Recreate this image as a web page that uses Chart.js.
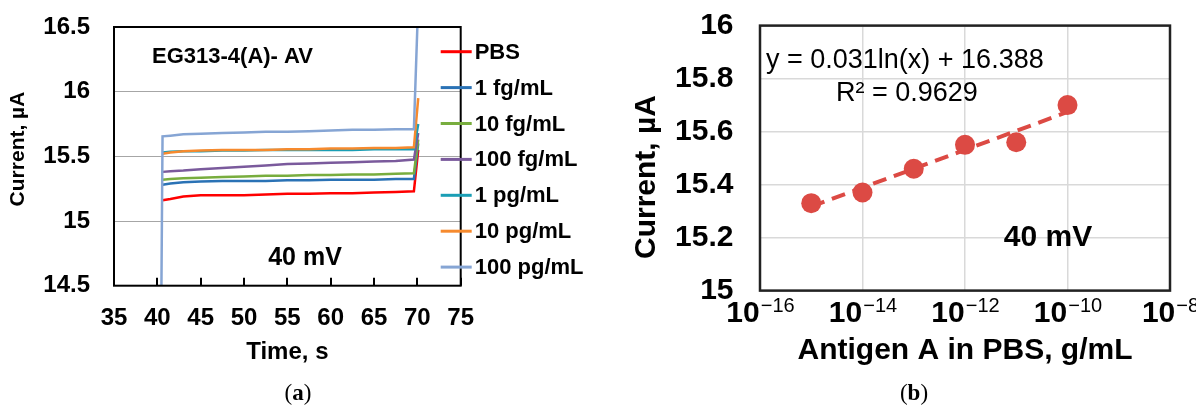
<!DOCTYPE html>
<html>
<head>
<meta charset="utf-8">
<script src="https://cdn.jsdelivr.net/npm/chart.js@4.4.1/dist/chart.umd.min.js"></script>
<style>
  html, body { margin: 0; padding: 0; background: #fff; }
  #wrap { position: relative; width: 1196px; height: 405px; overflow: hidden; }
  canvas { position: absolute; top: 0; }
  #leftChart { left: 0; }
  #rightChart { left: 600px; }
  .cap { position: absolute; top: 393px; transform: translate(-50%, -50%);
         font-family: 'Liberation Serif', 'DejaVu Serif', serif; font-size: 23px; color: #000; }
</style>
</head>
<body>
<div id="wrap">
  <canvas id="leftChart" width="600" height="405"></canvas>
  <canvas id="rightChart" width="596" height="405"></canvas>
  <div class="cap" style="left:298px">(<b>a</b>)</div>
  <div class="cap" style="left:914px">(<b>b</b>)</div>
</div>
<script>
const FONT = "'Liberation Sans', Arial, sans-serif";

// (a) current vs time, one trace per concentration
const timeS = [40.45, 40.6, 41.5, 43, 45, 47.5, 50, 52.5, 55, 57.5, 60, 62.5, 65, 67.5, 69.6, 70.1];
const seriesNames = ['PBS', '1 fg/mL', '10 fg/mL', '100 fg/mL', '1 pg/mL', '10 pg/mL', '100 pg/mL'];
const seriesColors = ['#FF0000', '#2A72B5', '#78AD3E', '#7A5A9C', '#1A9EB5', '#F68A2E', '#86A5D4'];
const pbs      = [null, 15.16, 15.17, 15.19, 15.20, 15.20, 15.20, 15.205, 15.21, 15.21, 15.215, 15.215, 15.22, 15.225, 15.23, 15.55];
const fg1      = [null, 15.28, 15.29, 15.30, 15.305, 15.31, 15.31, 15.31, 15.315, 15.315, 15.32, 15.32, 15.32, 15.325, 15.325, 15.60];
const fg10     = [null, 15.32, 15.325, 15.33, 15.335, 15.34, 15.345, 15.35, 15.35, 15.355, 15.355, 15.36, 15.36, 15.365, 15.37, 15.63];
const fg100    = [null, 15.38, 15.385, 15.39, 15.40, 15.41, 15.42, 15.43, 15.44, 15.445, 15.45, 15.455, 15.46, 15.465, 15.475, 15.68];
const pg1      = [null, 15.53, 15.535, 15.54, 15.54, 15.545, 15.545, 15.55, 15.55, 15.55, 15.55, 15.55, 15.555, 15.555, 15.555, 15.75];
const pg10     = [null, 15.52, 15.53, 15.54, 15.545, 15.55, 15.55, 15.55, 15.555, 15.555, 15.56, 15.56, 15.565, 15.565, 15.57, 15.95];
const pg100    = [14.3, 15.655, 15.66, 15.67, 15.675, 15.68, 15.685, 15.69, 15.69, 15.695, 15.70, 15.705, 15.705, 15.71, 15.71, 16.7];
const seriesValues = [pbs, fg1, fg10, fg100, pg1, pg10, pg100];
const currentTicksA = ['14.5', '15', '15.5', '16', '16.5'];

// (b) calibration
const antigenConc = [1e-15, 1e-14, 1e-13, 1e-12, 1e-11, 1e-10];
const currentB = [15.33, 15.37, 15.46, 15.55, 15.56, 15.70];
const trendConc = [1e-15, 1e-10];
const trendCurrent = [15.317, 15.674];
const concTicks = [1e-16, 1e-14, 1e-12, 1e-10, 1e-8];
const concTickExp = ['\u221216', '\u221214', '\u221212', '\u221210', '\u22128'];
const currentTicksB = ['15', '15.2', '15.4', '15.6', '15.8', '16'];

const leftDecor = {
  id: 'leftDecor',
  afterDraw(chart) {
    const { ctx, chartArea: a, scales: { x } } = chart;
    ctx.save();
    ctx.strokeStyle = '#000';
    ctx.lineWidth = 2;
    x.ticks.forEach(t => {
      const px = Math.round(x.getPixelForValue(t.value));
      ctx.beginPath(); ctx.moveTo(px, a.bottom); ctx.lineTo(px, a.bottom - 8); ctx.stroke();
    });
    ctx.strokeRect(a.left, a.top, a.right - a.left, a.bottom - a.top);

    ctx.fillStyle = '#000';
    ctx.textBaseline = 'middle';
    ctx.font = 'bold 22px ' + FONT;
    ctx.textAlign = 'left';
    ctx.fillText('EG313-4(A)- AV', 152, 57);
    ctx.font = 'bold 25px ' + FONT;
    ctx.textAlign = 'center';
    ctx.fillText('40 mV', 305, 258);
    ctx.font = 'bold 24px ' + FONT;
    ctx.fillText('Time, s', (a.left + a.right) / 2, 352);
    ctx.save();
    ctx.translate(18, 149);
    ctx.rotate(-Math.PI / 2);
    ctx.font = 'bold 21px ' + FONT;
    ctx.fillText('Current, \u00b5A', 0, 0);
    ctx.restore();

    // legend, straddling the right border
    ctx.font = 'bold 22px ' + FONT;
    ctx.textAlign = 'left';
    chart.data.datasets.forEach((ds, i) => {
      const y = a.top + 24.7 + i * 35.9;
      ctx.strokeStyle = ds.borderColor;
      ctx.lineWidth = 3;
      ctx.beginPath(); ctx.moveTo(a.right - 20, y); ctx.lineTo(a.right + 11, y); ctx.stroke();
      ctx.fillText(ds.label, a.right + 14, y + 1);
    });
    ctx.restore();
  }
};

const rightDecor = {
  id: 'rightDecor',
  afterDraw(chart) {
    const { ctx, chartArea: a, scales: { x } } = chart;
    ctx.save();
    ctx.strokeStyle = '#222';
    ctx.lineWidth = 2.5;
    ctx.strokeRect(a.left, a.top, a.right - a.left, a.bottom - a.top);

    ctx.fillStyle = '#000';
    // power-of-ten tick labels
    ctx.textBaseline = 'alphabetic';
    concTicks.forEach((v, i) => {
      const px = x.getPixelForValue(v);
      ctx.font = 'bold 30px ' + FONT;
      const w1 = ctx.measureText('10').width;
      ctx.font = '20px ' + FONT;
      const w2 = ctx.measureText(concTickExp[i]).width;
      const x0 = px - (w1 + w2) / 2;
      ctx.font = 'bold 30px ' + FONT;
      ctx.textAlign = 'left';
      ctx.fillText('10', x0, 322);
      ctx.font = '20px ' + FONT;
      ctx.fillText(concTickExp[i], x0 + w1 + 1, 312);
    });

    ctx.textBaseline = 'middle';
    ctx.textAlign = 'left';
    ctx.font = '27px ' + FONT;
    ctx.fillText('y = 0.031ln(x) + 16.388', 166, 61);
    ctx.fillText('R\u00b2 = 0.9629', 236, 94);
    ctx.textAlign = 'center';
    ctx.font = 'bold 30px ' + FONT;
    ctx.fillText('40 mV', 448, 238);
    ctx.fillText('Antigen A in PBS, g/mL', (a.left + a.right) / 2, 351);
    ctx.save();
    ctx.translate(47, 177);
    ctx.rotate(-Math.PI / 2);
    ctx.fillText('Current, \u00b5A', 0, 0);
    ctx.restore();
    ctx.restore();
  }
};

new Chart(document.getElementById('leftChart'), {
  type: 'scatter',
  data: {
    datasets: seriesNames.map((name, i) => ({
      label: name,
      data: timeS.map((t, k) => ({ x: t, y: seriesValues[i][k] })),
      showLine: true,
      borderColor: seriesColors[i],
      backgroundColor: seriesColors[i],
      borderWidth: 2.5,
      pointRadius: 0,
      tension: 0,
      spanGaps: false,
      order: seriesNames.length - 1 - i
    }))
  },
  options: {
    responsive: false,
    devicePixelRatio: 1,
    animation: false,
    layout: { padding: { top: 27, right: 139.3, left: 0, bottom: 0 } },
    plugins: { legend: { display: false }, tooltip: { enabled: false } },
    scales: {
      x: {
        type: 'linear', min: 35, max: 75,
        afterFit: s => { s.height = 119.3; },
        grid: { display: false },
        border: { display: false },
        ticks: { stepSize: 5, padding: 10, color: '#000', font: { family: FONT, size: 24, weight: 'bold' } }
      },
      y: {
        min: 14.5, max: 16.5,
        afterFit: s => { s.width = 114; },
        grid: { color: '#A6A6A6', lineWidth: 1, drawTicks: true, tickLength: 24, tickColor: 'rgba(0,0,0,0)' },
        border: { display: false },
        ticks: {
          stepSize: 0.5, padding: 0, color: '#000',
          font: { family: FONT, size: 24, weight: 'bold' },
          callback: (v, i) => currentTicksA[i]
        }
      }
    }
  },
  plugins: [leftDecor]
});

new Chart(document.getElementById('rightChart'), {
  type: 'scatter',
  data: {
    datasets: [
      {
        label: 'Current',
        data: antigenConc.map((c, k) => ({ x: c, y: currentB[k] })),
        pointRadius: 10,
        pointBorderWidth: 0,
        backgroundColor: '#DC4A44',
        borderColor: '#DC4A44',
        order: 0
      },
      {
        label: 'Log. trend',
        data: trendConc.map((c, k) => ({ x: c, y: trendCurrent[k] })),
        showLine: true,
        pointRadius: 0,
        borderColor: '#DC4A44',
        borderWidth: 4,
        borderDash: [14, 8],
        order: 1
      }
    ]
  },
  options: {
    responsive: false,
    devicePixelRatio: 1,
    animation: false,
    layout: { padding: { top: 25.6, right: 26, left: 0, bottom: 0 } },
    plugins: { legend: { display: false }, tooltip: { enabled: false } },
    scales: {
      x: {
        type: 'logarithmic', min: 1e-16, max: 1e-8,
        afterBuildTicks: s => { s.ticks = concTicks.map(v => ({ value: v })); },
        afterFit: s => { s.height = 114.4; },
        grid: { color: '#D9D9D9', lineWidth: 1.5, drawTicks: false },
        border: { display: false },
        ticks: { display: false }
      },
      y: {
        min: 15, max: 16,
        afterFit: s => { s.width = 160; },
        grid: { color: '#D9D9D9', lineWidth: 1.5, drawTicks: true, tickLength: 26.5, tickColor: 'rgba(0,0,0,0)' },
        border: { display: false },
        ticks: {
          stepSize: 0.2, padding: 0, color: '#000',
          font: { family: FONT, size: 30, weight: 'bold' },
          callback: (v, i) => currentTicksB[i]
        }
      }
    }
  },
  plugins: [rightDecor]
});
</script>
</body>
</html>
